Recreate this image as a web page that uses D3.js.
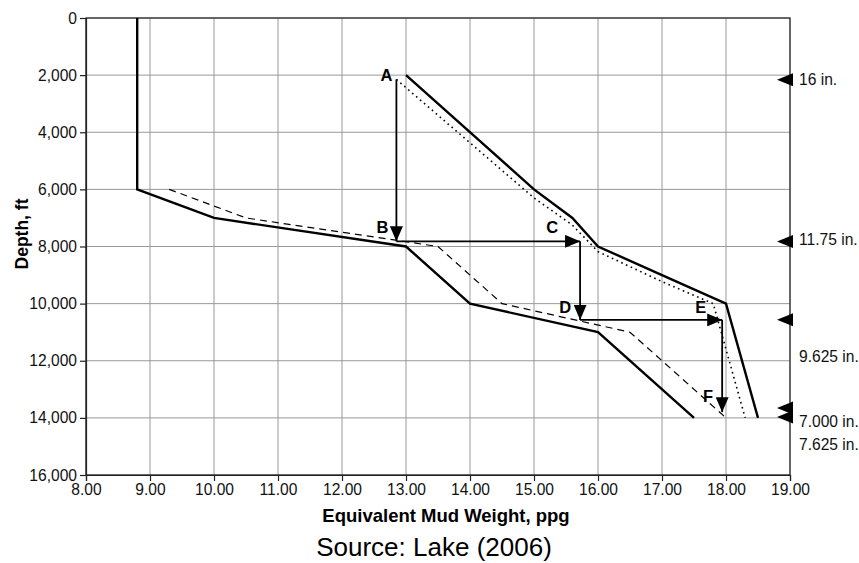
<!DOCTYPE html>
<html>
<head>
<meta charset="utf-8">
<script src="https://cdn.jsdelivr.net/npm/d3@7"></script>
<style>
  body { margin: 0; background: #fff; }
  text { font-family: "Liberation Sans", Arial, sans-serif; }
</style>
</head>
<body>
<svg width="859" height="563"></svg>
<script>
// ticks
const xTicks = [8, 9, 10, 11, 12, 13, 14, 15, 16, 17, 18, 19];
const yTicks = [0, 2000, 4000, 6000, 8000, 10000, 12000, 14000, 16000];

// pore pressure (solid, left)
const poreMW    = [8.8, 8.8, 10.0, 13.0, 14.0, 16.0, 17.5];
const poreDepth = [0, 6000, 7000, 8000, 10000, 11000, 14000];
// pore pressure + trip margin (dashed)
const tripMW    = [9.3, 10.5, 13.5, 14.5, 16.5, 18.0];
const tripDepth = [6000, 7000, 8000, 10000, 11000, 14000];
// fracture gradient (solid, right)
const fracMW    = [13.0, 15.0, 15.6, 16.0, 17.0, 18.0, 18.5];
const fracDepth = [2000, 6000, 7000, 8000, 9000, 10000, 14000];
// fracture gradient - kick margin (dotted)
const kickMW    = [12.85, 15.0, 15.6, 16.0, 17.0, 17.8, 18.3];
const kickDepth = [2150, 6300, 7250, 8180, 9230, 10000, 14000];

// design path A..F
const pathLetters = ["A", "B", "C", "D", "E", "F"];
const pathMW      = [12.85, 12.85, 15.72, 15.72, 17.94, 17.94];
const pathDepth   = [2150, 7820, 7820, 10570, 10570, 13800];

// casing seats
const seatDepth   = [2160, 7825, 10567, 13650, 13965];
const casingNames = ["16 in.", "11.75 in.", "9.625 in.", "7.000 in.", "7.625 in."];
const casingDepth = [2160, 7765, 11853, 14130, 14946];

const svg = d3.select("svg");
const x = d3.scaleLinear().domain([8, 19]).range([86, 790]);
const y = d3.scaleLinear().domain([0, 16000]).range([18, 475]);

// grid
svg.append("g").selectAll("line").data(xTicks).enter().append("line")
  .attr("x1", d => x(d)).attr("x2", d => x(d))
  .attr("y1", y(0)).attr("y2", y(16000))
  .attr("stroke", "#999").attr("stroke-width", 1);
svg.append("g").selectAll("line").data(yTicks).enter().append("line")
  .attr("x1", x(8)).attr("x2", x(19))
  .attr("y1", d => y(d)).attr("y2", d => y(d))
  .attr("stroke", "#999").attr("stroke-width", 1);

svg.append("rect")
  .attr("x", x(8)).attr("y", y(0))
  .attr("width", x(19) - x(8)).attr("height", y(16000) - y(0))
  .attr("fill", "none").attr("stroke", "#222").attr("stroke-width", 1.2);

// axes
let yAxis = svg.append("g").attr("transform", `translate(${x(8)},0)`)
  .call(d3.axisLeft(y).tickValues(yTicks).tickSize(6).tickPadding(3)
    .tickFormat(d => d3.format(",")(d)));
let xAxis = svg.append("g").attr("transform", `translate(0,${y(16000)})`)
  .call(d3.axisBottom(x).tickValues(xTicks).tickSize(6).tickPadding(3)
    .tickFormat(d3.format(".2f")));
[xAxis, yAxis].forEach(g => {
  g.selectAll("path, line").attr("stroke", "#222").attr("stroke-width", 1.2);
  g.selectAll("text").attr("font-size", 15.6).attr("fill", "#111")
    .style("font-family", "'Liberation Sans', Arial, sans-serif");
});

// curves
const line = d3.line().x(d => x(d[0])).y(d => y(d[1]));
function curve(mw, depth, width, dash) {
  svg.append("path")
    .attr("d", line(d3.zip(mw, depth)))
    .attr("fill", "none").attr("stroke", "#000")
    .attr("stroke-width", width)
    .attr("stroke-dasharray", dash)
    .attr("stroke-linejoin", "miter");
}
curve(poreMW, poreDepth, 2.4, null);
curve(tripMW, tripDepth, 1.2, "7,5");
curve(fracMW, fracDepth, 2.4, null);
curve(kickMW, kickDepth, 1.6, "1.6,3.6");

// arrows
svg.append("defs").append("marker")
  .attr("id", "head").attr("markerUnits", "userSpaceOnUse")
  .attr("viewBox", "0 0 15 13").attr("refX", 15).attr("refY", 6.5)
  .attr("markerWidth", 15).attr("markerHeight", 13).attr("orient", "auto")
  .append("path").attr("d", "M0,0L15,6.5L0,13Z").attr("fill", "#000");

const pts = d3.zip(pathMW, pathDepth);
svg.append("g").selectAll("line").data(d3.pairs(pts)).enter().append("line")
  .attr("x1", d => x(d[0][0])).attr("y1", d => y(d[0][1]))
  .attr("x2", d => x(d[1][0])).attr("y2", d => y(d[1][1]))
  .attr("stroke", "#000").attr("stroke-width", 1.8)
  .attr("marker-end", "url(#head)");

const letterShift = [[-4, 2], [-8, -8], [-22, -8], [-9, -7], [-16, -7], [-9, -10]];
svg.append("g").selectAll("text").data(pts).enter().append("text")
  .attr("x", (d, i) => x(d[0]) + letterShift[i][0])
  .attr("y", (d, i) => y(d[1]) + letterShift[i][1])
  .attr("text-anchor", "end")
  .attr("font-size", 16.5).attr("font-weight", "bold")
  .text((d, i) => pathLetters[i]);

// casing markers
svg.append("g").selectAll("path").data(seatDepth).enter().append("path")
  .attr("transform", d => `translate(${x(19)},${y(d)})`)
  .attr("d", "M-13,0L3,-6.5L3,6.5Z").attr("fill", "#000");
svg.append("g").selectAll("text").data(casingNames).enter().append("text")
  .attr("x", x(19) + 9)
  .attr("y", (d, i) => y(casingDepth[i]))
  .attr("dy", "0.35em").attr("font-size", 15.6).attr("fill", "#111")
  .text(d => d);

// titles
svg.append("text")
  .attr("transform", `translate(28,234) rotate(-90)`)
  .attr("text-anchor", "middle").attr("font-size", 17.5).attr("font-weight", "bold")
  .text("Depth, ft");
svg.append("text")
  .attr("x", 446).attr("y", 522)
  .attr("text-anchor", "middle").attr("font-size", 18.5).attr("font-weight", "bold")
  .text("Equivalent Mud Weight, ppg");
svg.append("text")
  .attr("x", 434).attr("y", 556)
  .attr("text-anchor", "middle").attr("font-size", 26)
  .text("Source: Lake (2006)");
</script>
</body>
</html>
